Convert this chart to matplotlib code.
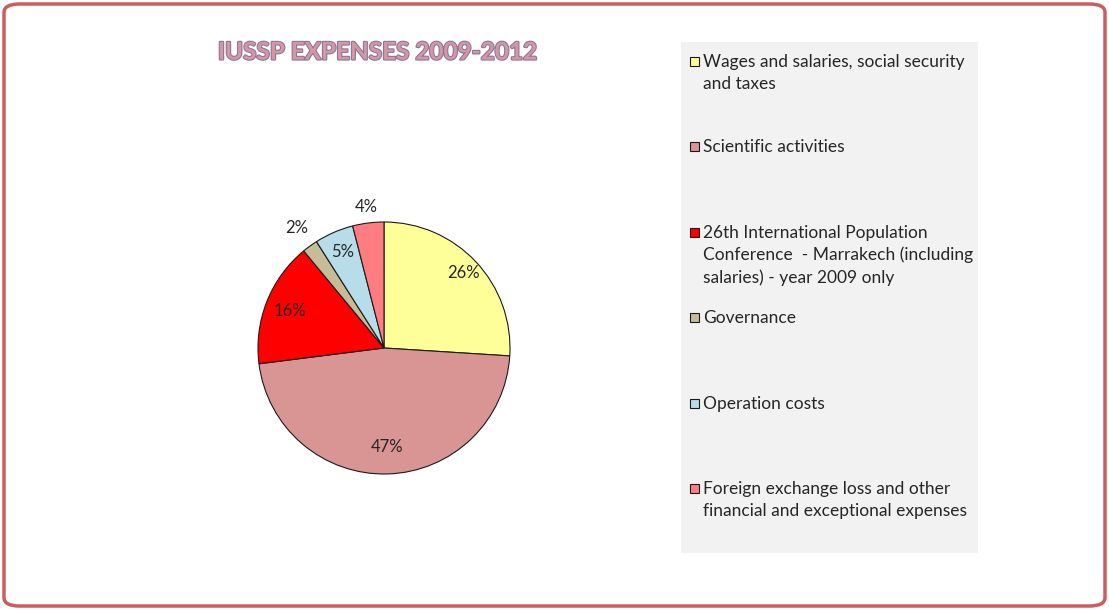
import numpy as np
import matplotlib
matplotlib.use('Agg')
import matplotlib.pyplot as plt
from matplotlib.patches import FancyBboxPatch, Rectangle
import matplotlib.patheffects as pe

plt.rcParams['font.family'] = ['Lato', 'DejaVu Sans']

# data
labels = ['Wages and salaries, social security\nand taxes',
          'Scientific activities',
          '26th International Population\nConference  - Marrakech (including\nsalaries) - year 2009 only',
          'Governance',
          'Operation costs',
          'Foreign exchange loss and other\nfinancial and exceptional expenses']
shares = [26, 47, 16, 2, 5, 4]
colors = ['#ffff99', '#d99594', '#ff0000', '#c4bd97', '#b7dde8', '#ff7c80']
# label radius (fraction of pie radius); small slices sit outside
label_r = [0.87, 0.79, 0.80, 1.18, 0.83, 1.13]

W, H = 1109, 610
fig = plt.figure(figsize=(W / 100, H / 100), dpi=100)

# rounded border
border = FancyBboxPatch((4 / W, 4 / H), (W - 8) / W, (H - 8) / H,
                        boxstyle='round,pad=0,rounding_size=0.014',
                        transform=fig.transFigure, facecolor='white',
                        edgecolor='#cd5c5c', linewidth=2.5, zorder=-5)
fig.patches.append(border)

# title
fig.text(377 / W, 1 - 52 / H, 'IUSSP EXPENSES 2009-2012', ha='center', va='center',
         fontsize=17.5, fontweight='bold', color='#d596a6',
         path_effects=[pe.withStroke(linewidth=1.6, foreground='#8a7898')])

# pie
cx, cy, R = 384, 348, 126
ax = fig.add_axes([(cx - R) / W, (H - cy - R) / H, 2 * R / W, 2 * R / H])
ax.set_zorder(5)
wedges, _ = ax.pie(shares, colors=colors, startangle=90, counterclock=False,
                   wedgeprops=dict(edgecolor='#1a1a1a', linewidth=0.8))
for w, v, r in zip(wedges, shares, label_r):
    ang = np.deg2rad((w.theta1 + w.theta2) / 2)
    ax.text(r * np.cos(ang), r * np.sin(ang), f'{v}%', ha='center', va='center',
            fontsize=12, color='#262626')
ax.set_xlim(-1, 1)
ax.set_ylim(-1, 1)
ax.axis('off')

# legend panel
fig.patches.append(Rectangle((681 / W, 1 - 553 / H), (978 - 681) / W, (553 - 42) / H,
                             transform=fig.transFigure, facecolor='#f2f2f2',
                             edgecolor='none', zorder=1))
y0, step = 61, 85.4
for i, (lab, c) in enumerate(zip(labels, colors)):
    y = y0 + i * step
    fig.patches.append(Rectangle((690 / W, 1 - (y + 5) / H), 9 / W, 9 / H,
                                 transform=fig.transFigure, facecolor=c,
                                 edgecolor='#1a1a1a', linewidth=0.8, zorder=2))
    fig.text(703 / W, 1 - (y - 7) / H, lab, ha='left', va='top', fontsize=12.5,
             color='#262626', linespacing=1.45, zorder=3)

fig.savefig('out.png', dpi=100)
